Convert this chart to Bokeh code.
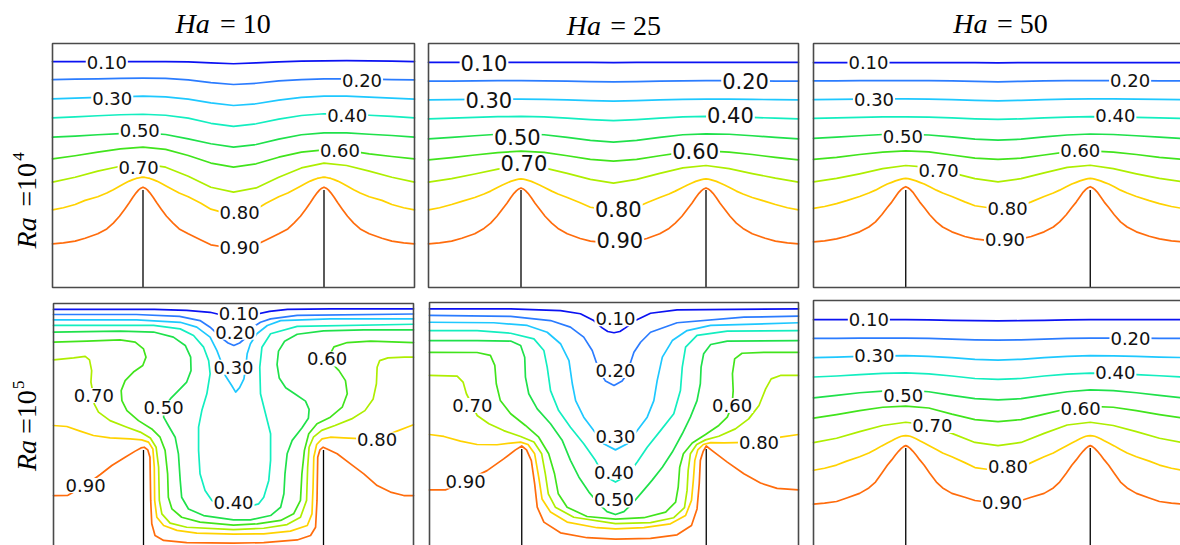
import math
from bokeh.plotting import figure
from bokeh.layouts import column, row
from bokeh.models import Range1d
from bokeh.core.properties import value
from bokeh.embed import file_html
from bokeh.resources import INLINE

# ---------------------------------------------------------------------------
# Isotherm levels and colours (jet-like scale)
# ---------------------------------------------------------------------------
LEVELS = [0.10, 0.20, 0.30, 0.40, 0.50, 0.60, 0.70, 0.80, 0.90]
COLORS = ["#0b12f2", "#2b7cff", "#1ec8ff", "#13eec0", "#1fe14b",
          "#41e41c", "#aeee00", "#ffd200", "#ff6c0c"]

HA_VALUES = [10, 25, 50]
RA_EXPONENTS = [4, 5]

# Enclosure geometry (dimensionless): two thin fins on the hot bottom wall
FIN_X = [0.25, 0.75]
FIN_H = 0.40

# Sampling positions along X
GRID17 = [0, 0.0625, 0.125, 0.1875, 0.25, 0.3125, 0.375, 0.4375, 0.5,
          0.5625, 0.625, 0.6875, 0.75, 0.8125, 0.875, 0.9375, 1.0]
# finer near the two fin tips, used for the hottest isotherms
GRID57 = [0, 0.03, 0.0625, 0.09, 0.125, 0.15, 0.168, 0.185, 0.2, 0.212, 0.222, 0.231, 0.238, 0.244,
          0.25,
          0.256, 0.262, 0.269, 0.278, 0.288, 0.3, 0.315, 0.333, 0.35, 0.375, 0.41, 0.4375, 0.47,
          0.5,
          0.53, 0.5625, 0.59, 0.625, 0.65, 0.667, 0.685, 0.7, 0.712, 0.722, 0.731, 0.738, 0.744,
          0.75,
          0.756, 0.762, 0.769, 0.778, 0.788, 0.8, 0.815, 0.832, 0.85, 0.875, 0.91, 0.9375, 0.97, 1.0]

# ---------------------------------------------------------------------------
# Ra = 1e4, Ha = 10
# ---------------------------------------------------------------------------
RA4_HA10 = [
    (GRID17, [0.926, 0.926, 0.926, 0.926, 0.926, 0.926, 0.925, 0.921, 0.917, 0.921, 0.925, 0.928, 0.929, 0.930, 0.929, 0.928, 0.926]),
    (GRID17, [0.852, 0.854, 0.855, 0.857, 0.858, 0.857, 0.851, 0.840, 0.832, 0.837, 0.847, 0.852, 0.855, 0.855, 0.854, 0.852, 0.851]),
    (GRID17, [0.773, 0.776, 0.779, 0.781, 0.784, 0.781, 0.772, 0.757, 0.746, 0.753, 0.768, 0.779, 0.784, 0.784, 0.780, 0.776, 0.772]),
    (GRID17, [0.695, 0.699, 0.704, 0.708, 0.710, 0.706, 0.694, 0.673, 0.660, 0.671, 0.690, 0.705, 0.712, 0.710, 0.706, 0.701, 0.695]),
    (GRID17, [0.616, 0.620, 0.626, 0.631, 0.634, 0.627, 0.609, 0.589, 0.575, 0.586, 0.608, 0.626, 0.634, 0.634, 0.628, 0.623, 0.616]),
    (GRID17, [0.527, 0.540, 0.555, 0.568, 0.575, 0.566, 0.541, 0.510, 0.493, 0.507, 0.534, 0.555, 0.564, 0.562, 0.548, 0.537, 0.527]),
    (GRID17, [0.432, 0.452, 0.477, 0.497, 0.507, 0.493, 0.456, 0.411, 0.391, 0.408, 0.452, 0.490, 0.510, 0.500, 0.477, 0.452, 0.432]),
    (GRID57, [0.318, 0.327, 0.340, 0.357, 0.372, 0.387, 0.401, 0.415, 0.427, 0.436, 0.442, 0.447, 0.449, 0.451,
              0.452,
              0.451, 0.449, 0.447, 0.442, 0.436, 0.427, 0.415, 0.401, 0.387, 0.372,
              0.345, 0.321, 0.308, 0.302, 0.308, 0.321, 0.345,
              0.372, 0.387, 0.401, 0.415, 0.427, 0.436, 0.442, 0.447, 0.449, 0.451,
              0.452,
              0.451, 0.449, 0.447, 0.442, 0.436, 0.427, 0.415, 0.401, 0.387, 0.372,
              0.357, 0.340, 0.327, 0.318]),
    (GRID57, [0.179, 0.183, 0.190, 0.202, 0.220, 0.240, 0.264, 0.292, 0.322, 0.347, 0.370, 0.388, 0.400, 0.407,
              0.411,
              0.407, 0.400, 0.388, 0.370, 0.347, 0.322, 0.292, 0.264, 0.240, 0.220,
              0.195, 0.175, 0.167, 0.163, 0.167, 0.175, 0.195,
              0.220, 0.240, 0.264, 0.292, 0.322, 0.347, 0.370, 0.388, 0.400, 0.407,
              0.411,
              0.407, 0.400, 0.388, 0.370, 0.347, 0.322, 0.292, 0.264, 0.240, 0.220,
              0.202, 0.190, 0.183, 0.179]),
]
RA4_HA10_LABELS = [(0.150, 0.924), (0.855, 0.848), (0.165, 0.773), (0.814, 0.705), (0.241, 0.643),
                   (0.794, 0.561), (0.238, 0.493), (0.517, 0.309), (0.517, 0.165)]

# ---------------------------------------------------------------------------
# Ra = 1e4, Ha = 25
# ---------------------------------------------------------------------------
RA4_HA25 = [
    (GRID17, [0.923, 0.923, 0.923, 0.923, 0.923, 0.923, 0.923, 0.923, 0.922, 0.923, 0.923, 0.923, 0.923, 0.923, 0.923, 0.923, 0.923]),
    (GRID17, [0.846, 0.846, 0.847, 0.848, 0.848, 0.847, 0.846, 0.844, 0.843, 0.844, 0.846, 0.847, 0.848, 0.848, 0.847, 0.846, 0.846]),
    (GRID17, [0.769, 0.770, 0.771, 0.772, 0.772, 0.771, 0.769, 0.766, 0.764, 0.766, 0.769, 0.771, 0.772, 0.772, 0.771, 0.770, 0.769]),
    (GRID17, [0.691, 0.694, 0.697, 0.700, 0.701, 0.699, 0.694, 0.688, 0.684, 0.688, 0.694, 0.699, 0.701, 0.700, 0.697, 0.694, 0.691]),
    (GRID17, [0.609, 0.615, 0.622, 0.628, 0.630, 0.626, 0.615, 0.603, 0.596, 0.603, 0.615, 0.626, 0.630, 0.628, 0.622, 0.615, 0.609]),
    (GRID17, [0.523, 0.532, 0.543, 0.553, 0.559, 0.554, 0.540, 0.525, 0.518, 0.525, 0.540, 0.554, 0.560, 0.555, 0.545, 0.533, 0.523]),
    (GRID17, [0.432, 0.446, 0.465, 0.485, 0.498, 0.490, 0.468, 0.443, 0.428, 0.443, 0.468, 0.490, 0.500, 0.487, 0.467, 0.448, 0.432]),
    (GRID57, [0.318, 0.327, 0.340, 0.353, 0.369, 0.383, 0.395, 0.409, 0.420, 0.428, 0.435, 0.439, 0.442, 0.444,
              0.445,
              0.444, 0.442, 0.439, 0.435, 0.428, 0.420, 0.409, 0.395, 0.383, 0.369,
              0.347, 0.329, 0.321, 0.318, 0.321, 0.329, 0.347,
              0.369, 0.383, 0.395, 0.409, 0.420, 0.428, 0.435, 0.439, 0.442, 0.444,
              0.445,
              0.444, 0.442, 0.439, 0.435, 0.428, 0.420, 0.409, 0.395, 0.383, 0.369,
              0.353, 0.340, 0.327, 0.318]),
    (GRID57, [0.179, 0.183, 0.190, 0.202, 0.220, 0.242, 0.264, 0.292, 0.322, 0.345, 0.368, 0.386, 0.397, 0.404,
              0.408,
              0.404, 0.397, 0.386, 0.368, 0.345, 0.322, 0.292, 0.264, 0.242, 0.220,
              0.201, 0.190, 0.185, 0.183, 0.185, 0.190, 0.201,
              0.220, 0.242, 0.264, 0.292, 0.322, 0.345, 0.368, 0.386, 0.397, 0.404,
              0.408,
              0.404, 0.397, 0.386, 0.368, 0.345, 0.322, 0.292, 0.264, 0.242, 0.220,
              0.202, 0.190, 0.183, 0.179]),
]
RA4_HA25_LABELS = [(0.150, 0.921), (0.857, 0.846), (0.163, 0.770), (0.816, 0.705), (0.240, 0.616),
                   (0.722, 0.561), (0.258, 0.510), (0.513, 0.322), (0.517, 0.193)]

# ---------------------------------------------------------------------------
# Ra = 1e4, Ha = 50
# ---------------------------------------------------------------------------
RA4_HA50 = [
    (GRID17, [0.922, 0.922, 0.922, 0.922, 0.922, 0.922, 0.922, 0.922, 0.921, 0.922, 0.922, 0.922, 0.922, 0.922, 0.922, 0.922, 0.922]),
    (GRID17, [0.847, 0.847, 0.848, 0.848, 0.848, 0.848, 0.847, 0.845, 0.843, 0.845, 0.847, 0.848, 0.848, 0.848, 0.848, 0.847, 0.847]),
    (GRID17, [0.770, 0.771, 0.772, 0.773, 0.773, 0.772, 0.770, 0.767, 0.765, 0.767, 0.770, 0.772, 0.773, 0.773, 0.772, 0.771, 0.770]),
    (GRID17, [0.693, 0.695, 0.697, 0.699, 0.699, 0.698, 0.695, 0.691, 0.689, 0.691, 0.695, 0.698, 0.700, 0.699, 0.697, 0.695, 0.693]),
    (GRID17, [0.611, 0.616, 0.622, 0.627, 0.628, 0.625, 0.617, 0.608, 0.604, 0.608, 0.617, 0.625, 0.629, 0.627, 0.622, 0.616, 0.611]),
    (GRID17, [0.525, 0.533, 0.545, 0.555, 0.560, 0.556, 0.543, 0.530, 0.525, 0.530, 0.543, 0.556, 0.560, 0.555, 0.545, 0.533, 0.525]),
    (GRID17, [0.433, 0.447, 0.466, 0.487, 0.500, 0.492, 0.470, 0.446, 0.433, 0.446, 0.470, 0.492, 0.501, 0.487, 0.466, 0.447, 0.433]),
    (GRID57, [0.324, 0.332, 0.344, 0.356, 0.373, 0.387, 0.399, 0.413, 0.424, 0.431, 0.437, 0.441, 0.444, 0.446,
              0.447,
              0.446, 0.444, 0.441, 0.437, 0.431, 0.424, 0.413, 0.399, 0.387, 0.373,
              0.351, 0.335, 0.328, 0.324, 0.328, 0.335, 0.351,
              0.373, 0.387, 0.399, 0.413, 0.424, 0.431, 0.437, 0.441, 0.444, 0.446,
              0.447,
              0.446, 0.444, 0.441, 0.437, 0.431, 0.424, 0.413, 0.399, 0.387, 0.373,
              0.356, 0.344, 0.332, 0.324]),
    (GRID57, [0.187, 0.191, 0.199, 0.210, 0.228, 0.248, 0.269, 0.298, 0.328, 0.350, 0.372, 0.391, 0.402, 0.409,
              0.413,
              0.409, 0.402, 0.391, 0.372, 0.350, 0.328, 0.298, 0.269, 0.248, 0.228,
              0.209, 0.199, 0.193, 0.191, 0.193, 0.199, 0.209,
              0.228, 0.248, 0.269, 0.298, 0.328, 0.350, 0.372, 0.391, 0.402, 0.409,
              0.413,
              0.409, 0.402, 0.391, 0.372, 0.350, 0.328, 0.298, 0.269, 0.248, 0.228,
              0.210, 0.199, 0.191, 0.187]),
]
RA4_HA50_LABELS = [(0.149, 0.922), (0.858, 0.847), (0.164, 0.772), (0.818, 0.706), (0.242, 0.617),
                   (0.723, 0.563), (0.339, 0.478), (0.526, 0.324), (0.519, 0.197)]

# ---------------------------------------------------------------------------
# Ra = 1e5, Ha = 10  (X, Y) points along each isotherm
# ---------------------------------------------------------------------------
RA5_HA10 = [
    [(0, 0.976), (0.28, 0.976), (0.37, 0.972), (0.435, 0.964), (0.47, 0.952), (0.515, 0.945), (0.56, 0.955),
     (0.6, 0.968), (0.65, 0.976), (0.77, 0.978), (1, 0.978)],
    [(0, 0.955), (0.23, 0.955), (0.35, 0.947), (0.407, 0.93), (0.435, 0.903), (0.455, 0.876), (0.47, 0.855),
     (0.485, 0.838), (0.501, 0.828), (0.517, 0.838), (0.535, 0.86), (0.55, 0.89), (0.561, 0.91), (0.575, 0.923),
     (0.603, 0.937), (0.677, 0.951), (1, 0.957)],
    [(0, 0.933), (0.231, 0.933), (0.352, 0.923), (0.398, 0.903), (0.435, 0.862), (0.454, 0.807), (0.466, 0.76),
     (0.477, 0.705), (0.495, 0.664), (0.506, 0.637), (0.517, 0.655), (0.529, 0.691), (0.534, 0.74), (0.538, 0.794),
     (0.547, 0.835), (0.565, 0.876), (0.594, 0.91), (0.631, 0.93), (0.769, 0.937), (1, 0.937)],
    [(0, 0.91), (0.278, 0.91), (0.352, 0.896), (0.389, 0.869), (0.417, 0.821), (0.431, 0.766), (0.435, 0.712),
     (0.426, 0.63), (0.412, 0.561), (0.403, 0.493), (0.403, 0.398), (0.407, 0.302), (0.421, 0.234), (0.44, 0.193),
     (0.47, 0.168), (0.5, 0.16), (0.535, 0.165), (0.57, 0.179), (0.584, 0.206), (0.598, 0.275), (0.603, 0.357),
     (0.603, 0.466), (0.589, 0.548), (0.575, 0.63), (0.573, 0.739), (0.579, 0.821), (0.603, 0.876), (0.677, 0.906),
     (1, 0.915)],
    [(0, 0.883), (0.185, 0.887), (0.278, 0.883), (0.333, 0.862), (0.366, 0.828), (0.381, 0.78), (0.382, 0.725),
     (0.37, 0.678), (0.347, 0.643), (0.325, 0.61), (0.306, 0.572), (0.306, 0.534), (0.319, 0.5), (0.338, 0.452),
     (0.347, 0.384), (0.352, 0.275), (0.356, 0.206), (0.375, 0.158), (0.417, 0.131), (0.5, 0.113), (0.547, 0.113),
     (0.603, 0.131), (0.631, 0.165), (0.64, 0.22), (0.643, 0.302), (0.649, 0.384), (0.663, 0.439), (0.69, 0.49),
     (0.708, 0.53), (0.71, 0.566), (0.7, 0.6), (0.672, 0.628), (0.645, 0.655), (0.627, 0.695), (0.621, 0.75),
     (0.625, 0.805), (0.642, 0.845), (0.677, 0.874), (0.75, 0.888), (0.862, 0.892), (1, 0.892)],
    [(0, 0.842), (0.093, 0.846), (0.185, 0.851), (0.227, 0.842), (0.25, 0.814), (0.257, 0.78), (0.248, 0.746),
     (0.222, 0.719), (0.199, 0.684), (0.188, 0.643), (0.19, 0.602), (0.204, 0.561), (0.236, 0.52), (0.273, 0.486),
     (0.296, 0.452), (0.31, 0.398), (0.317, 0.302), (0.319, 0.206), (0.329, 0.158), (0.356, 0.124), (0.407, 0.104),
     (0.5, 0.092), (0.566, 0.097), (0.631, 0.111), (0.667, 0.138), (0.686, 0.193), (0.69, 0.302), (0.697, 0.398),
     (0.709, 0.466), (0.732, 0.507), (0.769, 0.534), (0.802, 0.575), (0.816, 0.63), (0.811, 0.684), (0.793, 0.725),
     (0.775, 0.752), (0.762, 0.775), (0.779, 0.822), (0.816, 0.84), (0.881, 0.846), (1, 0.84)],
    [(0, 0.769), (0.056, 0.777), (0.088, 0.783), (0.1, 0.769), (0.106, 0.725), (0.104, 0.678), (0.111, 0.623),
     (0.113, 0.589), (0.125, 0.555), (0.157, 0.52), (0.204, 0.493), (0.241, 0.473), (0.269, 0.449), (0.285, 0.411),
     (0.292, 0.329), (0.294, 0.193), (0.301, 0.138), (0.324, 0.1), (0.37, 0.083), (0.5, 0.073), (0.584, 0.079),
     (0.649, 0.094), (0.686, 0.124), (0.703, 0.193), (0.706, 0.329), (0.71, 0.411), (0.722, 0.452), (0.745, 0.48),
     (0.782, 0.5), (0.828, 0.527), (0.865, 0.561), (0.888, 0.609), (0.897, 0.671), (0.899, 0.739), (0.906, 0.766),
     (0.929, 0.777), (0.975, 0.78), (1, 0.78)],
    [(0, 0.5), (0.037, 0.496), (0.074, 0.477), (0.111, 0.459), (0.157, 0.449), (0.213, 0.445), (0.245, 0.441),
     (0.264, 0.432), (0.276, 0.404), (0.28, 0.329), (0.281, 0.193), (0.287, 0.124), (0.306, 0.09), (0.343, 0.07),
     (0.398, 0.059), (0.5, 0.055), (0.584, 0.056), (0.658, 0.067), (0.705, 0.09), (0.718, 0.138), (0.721, 0.247),
     (0.723, 0.37), (0.731, 0.422), (0.746, 0.445), (0.769, 0.452), (0.806, 0.449), (0.85, 0.446), (0.899, 0.443),
     (0.954, 0.477), (0.982, 0.493), (1, 0.503)],
    [(0, 0.213), (0.04, 0.214), (0.088, 0.254), (0.13, 0.299), (0.162, 0.336), (0.199, 0.37), (0.227, 0.395),
     (0.243, 0.408), (0.252, 0.411), (0.262, 0.4), (0.268, 0.37), (0.27, 0.193), (0.273, 0.097), (0.282, 0.049),
     (0.306, 0.029), (0.37, 0.02), (0.5, 0.018), (0.584, 0.02), (0.677, 0.031), (0.714, 0.049), (0.728, 0.083),
     (0.732, 0.193), (0.734, 0.37), (0.74, 0.4), (0.749, 0.411), (0.76, 0.404), (0.788, 0.384), (0.825, 0.343),
     (0.862, 0.302), (0.899, 0.254), (0.936, 0.227), (0.973, 0.213), (1, 0.213)],
]
RA5_HA10_LABELS = [(0.515, 0.960), (0.505, 0.882), (0.500, 0.739), (0.500, 0.186), (0.306, 0.572),
                   (0.760, 0.773), (0.112, 0.623), (0.899, 0.441), (0.089, 0.254)]

# ---------------------------------------------------------------------------
# Ra = 1e5, Ha = 25
# ---------------------------------------------------------------------------
RA5_HA25 = [
    [(0, 0.974), (0.22, 0.974), (0.355, 0.967), (0.409, 0.954), (0.445, 0.926), (0.468, 0.896), (0.483, 0.881),
     (0.5, 0.876), (0.516, 0.881), (0.531, 0.896), (0.558, 0.926), (0.599, 0.956), (0.671, 0.97), (1, 0.974)],
    [(0, 0.947), (0.22, 0.943), (0.328, 0.926), (0.382, 0.899), (0.418, 0.858), (0.441, 0.803), (0.452, 0.755),
     (0.465, 0.708), (0.477, 0.678), (0.5, 0.66), (0.522, 0.678), (0.536, 0.708), (0.545, 0.755), (0.554, 0.796),
     (0.572, 0.837), (0.599, 0.878), (0.671, 0.917), (0.852, 0.94), (1, 0.944)],
    [(0, 0.919), (0.174, 0.917), (0.265, 0.906), (0.319, 0.878), (0.355, 0.831), (0.378, 0.762), (0.387, 0.667),
     (0.396, 0.598), (0.418, 0.53), (0.445, 0.475), (0.472, 0.421), (0.504, 0.396), (0.536, 0.421), (0.563, 0.475),
     (0.59, 0.53), (0.608, 0.598), (0.617, 0.68), (0.631, 0.776), (0.658, 0.844), (0.698, 0.885), (0.762, 0.906),
     (1, 0.917)],
    [(0, 0.885), (0.129, 0.885), (0.22, 0.874), (0.283, 0.851), (0.31, 0.803), (0.319, 0.735), (0.328, 0.639),
     (0.35, 0.557), (0.382, 0.489), (0.418, 0.421), (0.45, 0.352), (0.472, 0.291), (0.504, 0.264), (0.536, 0.291),
     (0.563, 0.346), (0.59, 0.407), (0.626, 0.475), (0.662, 0.544), (0.68, 0.639), (0.685, 0.735), (0.694, 0.817),
     (0.725, 0.865), (0.807, 0.883), (1, 0.885)],
    [(0, 0.844), (0.129, 0.844), (0.22, 0.842), (0.247, 0.824), (0.258, 0.776), (0.26, 0.694), (0.269, 0.626),
     (0.292, 0.564), (0.328, 0.503), (0.36, 0.434), (0.382, 0.353), (0.405, 0.284), (0.432, 0.223), (0.459, 0.175),
     (0.481, 0.143), (0.504, 0.131), (0.527, 0.143), (0.549, 0.175), (0.576, 0.223), (0.603, 0.271), (0.631, 0.325),
     (0.658, 0.387), (0.685, 0.462), (0.707, 0.53), (0.725, 0.598), (0.734, 0.667), (0.736, 0.735), (0.743, 0.79),
     (0.762, 0.828), (0.807, 0.842), (1, 0.844)],
    [(0, 0.796), (0.129, 0.795), (0.165, 0.783), (0.177, 0.742), (0.181, 0.667), (0.192, 0.598), (0.22, 0.544),
     (0.26, 0.496), (0.296, 0.448), (0.323, 0.38), (0.339, 0.297), (0.349, 0.216), (0.373, 0.161), (0.427, 0.123),
     (0.504, 0.112), (0.581, 0.118), (0.64, 0.141), (0.667, 0.182), (0.674, 0.243), (0.678, 0.325), (0.688, 0.38),
     (0.712, 0.424), (0.748, 0.459), (0.784, 0.496), (0.807, 0.53), (0.82, 0.578), (0.823, 0.639), (0.821, 0.708),
     (0.827, 0.769), (0.847, 0.792), (0.906, 0.796), (1, 0.796)],
    [(0, 0.701), (0.075, 0.698), (0.091, 0.674), (0.1, 0.626), (0.116, 0.578), (0.129, 0.537), (0.161, 0.503),
     (0.201, 0.475), (0.247, 0.451), (0.283, 0.428), (0.304, 0.38), (0.314, 0.297), (0.322, 0.216), (0.341, 0.161),
     (0.391, 0.12), (0.504, 0.094), (0.599, 0.098), (0.662, 0.118), (0.691, 0.159), (0.698, 0.23), (0.701, 0.312),
     (0.707, 0.38), (0.724, 0.418), (0.748, 0.437), (0.784, 0.452), (0.829, 0.482), (0.865, 0.523), (0.893, 0.578),
     (0.911, 0.646), (0.926, 0.687), (0.951, 0.701), (1, 0.701)],
    [(0, 0.459), (0.039, 0.451), (0.084, 0.432), (0.129, 0.418), (0.183, 0.417), (0.22, 0.424), (0.247, 0.428),
     (0.267, 0.418), (0.285, 0.38), (0.296, 0.284), (0.305, 0.195), (0.328, 0.141), (0.373, 0.1), (0.454, 0.077),
     (0.504, 0.072), (0.581, 0.077), (0.653, 0.093), (0.694, 0.127), (0.71, 0.189), (0.715, 0.271), (0.719, 0.353),
     (0.727, 0.396), (0.742, 0.418), (0.762, 0.426), (0.798, 0.425), (0.893, 0.428), (0.951, 0.448), (1, 0.459)],
    [(0, 0.232), (0.043, 0.232), (0.098, 0.268), (0.156, 0.311), (0.201, 0.359), (0.233, 0.396), (0.25, 0.412),
     (0.263, 0.396), (0.276, 0.352), (0.285, 0.257), (0.292, 0.161), (0.31, 0.1), (0.355, 0.056), (0.427, 0.036),
     (0.504, 0.03), (0.599, 0.033), (0.671, 0.048), (0.71, 0.086), (0.725, 0.154), (0.731, 0.257), (0.734, 0.353),
     (0.742, 0.391), (0.75, 0.412), (0.766, 0.393), (0.807, 0.346), (0.852, 0.298), (0.897, 0.26), (0.942, 0.238),
     (1, 0.232)],
]
RA5_HA25_LABELS = [(0.504, 0.933), (0.504, 0.721), (0.504, 0.452), (0.500, 0.305), (0.500, 0.191),
                   (0.820, 0.578), (0.116, 0.578), (0.893, 0.428), (0.098, 0.268)]

# ---------------------------------------------------------------------------
# Ra = 1e5, Ha = 50
# ---------------------------------------------------------------------------
RA5_HA50 = [
    (GRID17, [0.922, 0.922, 0.922, 0.922, 0.922, 0.921, 0.919, 0.918, 0.917, 0.918, 0.919, 0.921, 0.922, 0.922, 0.922, 0.922, 0.922]),
    (GRID17, [0.846, 0.846, 0.847, 0.847, 0.847, 0.846, 0.843, 0.840, 0.839, 0.840, 0.843, 0.846, 0.847, 0.847, 0.847, 0.846, 0.846]),
    (GRID17, [0.768, 0.770, 0.773, 0.775, 0.776, 0.773, 0.768, 0.761, 0.758, 0.761, 0.768, 0.773, 0.776, 0.775, 0.773, 0.770, 0.768]),
    (GRID17, [0.689, 0.693, 0.699, 0.704, 0.706, 0.702, 0.693, 0.683, 0.679, 0.683, 0.693, 0.701, 0.705, 0.704, 0.699, 0.694, 0.689]),
    (GRID17, [0.604, 0.614, 0.625, 0.632, 0.636, 0.629, 0.614, 0.601, 0.596, 0.601, 0.615, 0.629, 0.637, 0.634, 0.625, 0.614, 0.604]),
    (GRID17, [0.522, 0.536, 0.552, 0.566, 0.571, 0.563, 0.538, 0.516, 0.508, 0.516, 0.538, 0.560, 0.570, 0.566, 0.552, 0.536, 0.522]),
    (GRID17, [0.422, 0.440, 0.467, 0.492, 0.505, 0.494, 0.460, 0.423, 0.410, 0.423, 0.460, 0.494, 0.505, 0.492, 0.467, 0.440, 0.422]),
    (GRID57, [0.310, 0.318, 0.331, 0.347, 0.365, 0.380, 0.394, 0.409, 0.421, 0.430, 0.438, 0.444, 0.448, 0.450,
              0.451,
              0.450, 0.448, 0.444, 0.438, 0.430, 0.421, 0.409, 0.394, 0.380, 0.365,
              0.341, 0.321, 0.314, 0.310, 0.314, 0.321, 0.341,
              0.365, 0.380, 0.394, 0.409, 0.421, 0.430, 0.438, 0.444, 0.448, 0.450,
              0.451,
              0.450, 0.448, 0.444, 0.438, 0.430, 0.421, 0.409, 0.394, 0.380, 0.365,
              0.347, 0.331, 0.318, 0.310]),
    (GRID57, [0.172, 0.176, 0.183, 0.197, 0.216, 0.238, 0.262, 0.298, 0.330, 0.352, 0.372, 0.388, 0.399, 0.406,
              0.410,
              0.406, 0.399, 0.388, 0.372, 0.352, 0.330, 0.298, 0.262, 0.238, 0.216,
              0.200, 0.187, 0.181, 0.178, 0.181, 0.187, 0.200,
              0.216, 0.238, 0.262, 0.298, 0.330, 0.352, 0.372, 0.388, 0.399, 0.406,
              0.410,
              0.406, 0.399, 0.388, 0.372, 0.352, 0.330, 0.298, 0.262, 0.238, 0.216,
              0.197, 0.183, 0.176, 0.172]),
]
RA5_HA50_LABELS = [(0.150, 0.921), (0.859, 0.846), (0.165, 0.775), (0.818, 0.709), (0.243, 0.615),
                   (0.724, 0.560), (0.322, 0.492), (0.527, 0.324), (0.511, 0.178)]

# ---------------------------------------------------------------------------
# Page layout (pixels): each canvas box and the enclosure box inside it
# ---------------------------------------------------------------------------
CANVAS = [[(0, 0, 420, 295), (420, 0, 385, 295), (805, 0, 375, 295)],
          [(0, 295, 420, 250), (420, 295, 385, 250), (805, 295, 375, 250)]]
ENCLOSURE = [[(52, 43, 362, 244), (428, 43, 370, 244), (813, 43, 369, 244)],
             [(53, 303, 360, 244), (429, 302, 369, 244), (813, 300, 369, 246)]]

PANELS = [[(RA4_HA10, RA4_HA10_LABELS), (RA4_HA25, RA4_HA25_LABELS), (RA4_HA50, RA4_HA50_LABELS)],
          [(RA5_HA10, RA5_HA10_LABELS), (RA5_HA25, RA5_HA25_LABELS), (RA5_HA50, RA5_HA50_LABELS)]]
LABEL_SIZE = [["18px", "21px", "18px"], ["18px", "18px", "18px"]]

# title pieces: centre x of "Ha", centre x of "= N", centre y (enclosure units)
TITLE_POS = [(0.387, 0.533, 1.080), (0.420, 0.560, 1.074), (0.425, 0.566, 1.083)]
# row label pieces: centre x, centre y of "Ra", centre y of "=10", superscript x, y
ROW_POS = [(-0.073, 0.224, 0.421, -0.094, 0.537),
           (-0.076, 0.377, 0.555, -0.097, 0.667)]

SERIF = value("Liberation Serif")
SANS = value("DejaVu Sans")
FRAME_COLOR = "#4a4a4a"


def unpack(curve):
    if isinstance(curve, tuple):
        return list(curve[0]), list(curve[1])
    return [pt[0] for pt in curve], [pt[1] for pt in curve]


def make_canvas(canvas, box):
    fx, fy, fw, fh = canvas
    bx, by, bw, bh = box
    bottom = by + bh
    p = figure(width=fw, height=fh, title=None,
               x_range=Range1d((fx - bx) / bw, (fx + fw - bx) / bw),
               y_range=Range1d((bottom - (fy + fh)) / bh, (bottom - fy) / bh),
               output_backend="svg", toolbar_location=None,
               x_axis_location=None, y_axis_location=None, min_border=0)
    p.outline_line_color = None
    p.grid.visible = False
    p.background_fill_color = "white"
    p.border_fill_color = "white"
    return p


def draw_panel(p, curves, labels, label_size):
    for curve, color in zip(curves, COLORS):
        xs, ys = unpack(curve)
        p.line(xs, ys, line_color=color, line_width=1.7, line_join="round", line_cap="round")
    p.text(x=[c[0] for c in labels], y=[c[1] for c in labels],
           text=[f"{v:.2f}" for v in LEVELS],
           text_font=SANS, text_font_size=label_size, text_color="#111111",
           text_align="center", text_baseline="middle",
           background_fill_color="white", padding=1)
    p.segment(x0=FIN_X, y0=[0, 0], x1=FIN_X, y1=[FIN_H, FIN_H],
              line_color="black", line_width=1.3)
    p.quad(left=[0], right=[1], bottom=[0], top=[1], fill_color=None,
           line_color=FRAME_COLOR, line_width=1.6)


def draw_title(p, ha, pos):
    x_ha, x_rest, y = pos
    p.text(x=[x_ha], y=[y], text=["Ha"], text_font=SERIF, text_font_style="italic",
           text_font_size="28px", text_color="black", text_align="center", text_baseline="middle")
    p.text(x=[x_rest], y=[y], text=[f"= {ha}"], text_font=SERIF,
           text_font_size="28px", text_color="black", text_align="center", text_baseline="middle")


def draw_row_label(p, exponent, pos):
    xc, y_ra, y_eq, xs, ys = pos
    rot = math.pi / 2
    p.text(x=[xc], y=[y_ra], text=["Ra"], angle=rot, text_font=SERIF, text_font_style="italic",
           text_font_size="28px", text_color="black", text_align="center", text_baseline="middle")
    p.text(x=[xc], y=[y_eq], text=["=10"], angle=rot, text_font=SERIF,
           text_font_size="28px", text_color="black", text_align="center", text_baseline="middle")
    p.text(x=[xs], y=[ys], text=[str(exponent)], angle=rot, text_font=SERIF,
           text_font_size="17px", text_color="black", text_align="center", text_baseline="middle")


rows = []
for r in range(2):
    figs = []
    for c in range(3):
        p = make_canvas(CANVAS[r][c], ENCLOSURE[r][c])
        curves, labels = PANELS[r][c]
        draw_panel(p, curves, labels, LABEL_SIZE[r][c])
        if r == 0:
            draw_title(p, HA_VALUES[c], TITLE_POS[c])
        if c == 0:
            draw_row_label(p, RA_EXPONENTS[r], ROW_POS[r])
        figs.append(p)
    rows.append(row(*figs, spacing=0))

layout = column(*rows, spacing=0)

with open("out.html", "w") as f:
    f.write(file_html(layout, INLINE))
